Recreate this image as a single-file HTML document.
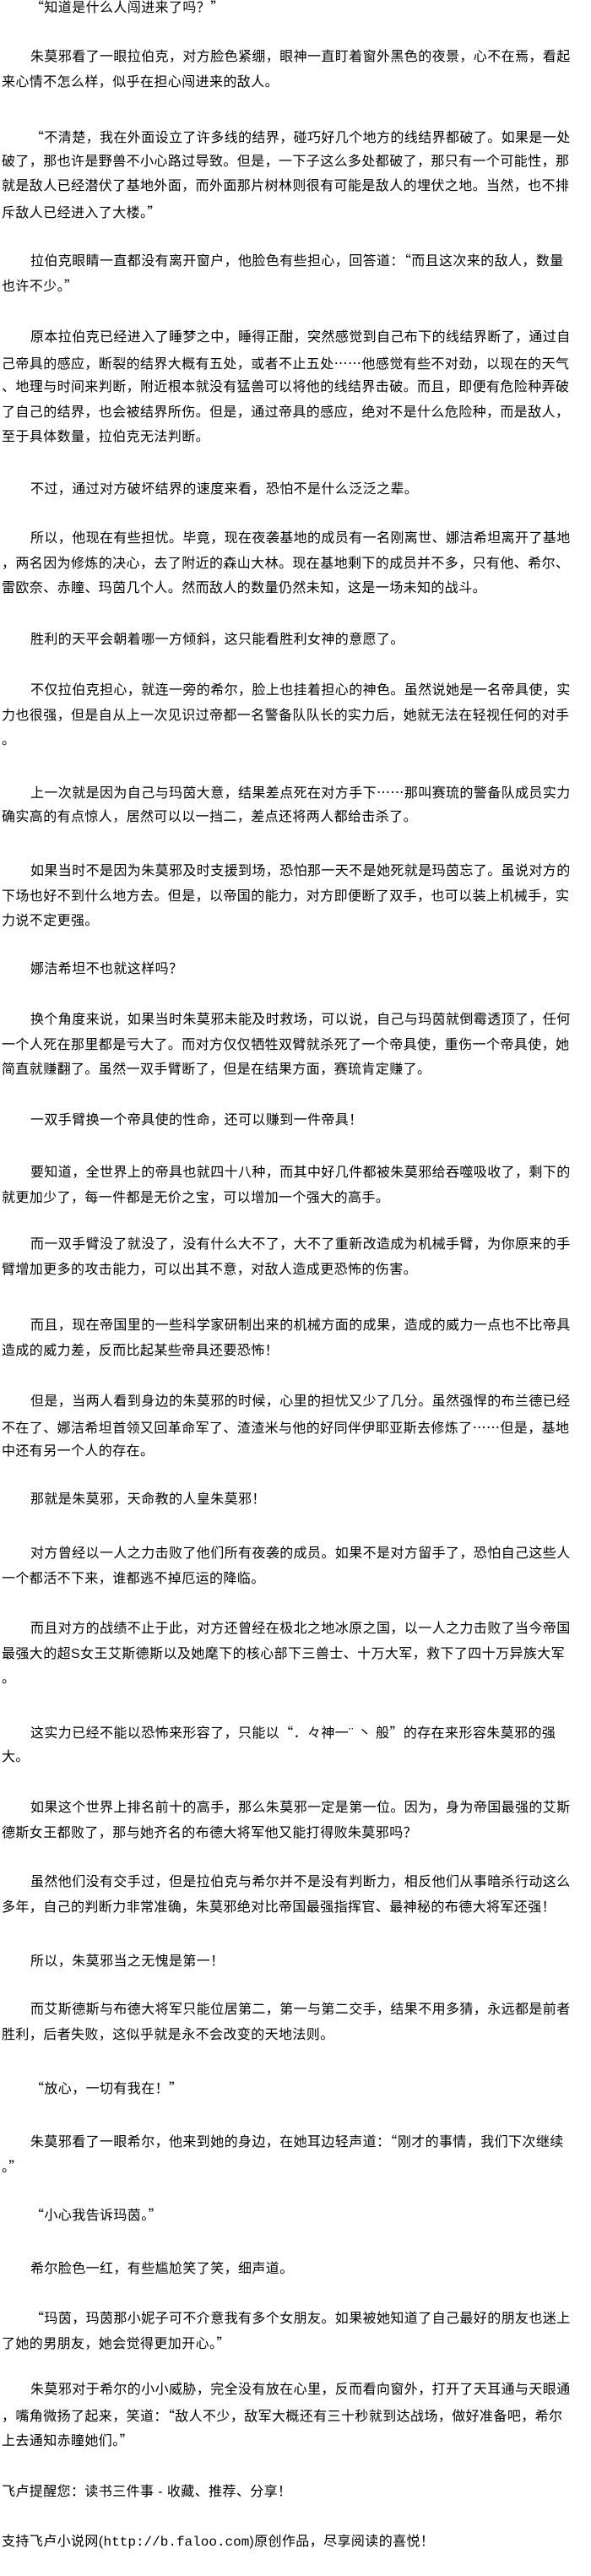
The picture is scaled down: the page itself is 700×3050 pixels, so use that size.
<!DOCTYPE html>
<html><head><meta charset="utf-8">
<style>
html,body{margin:0;padding:0;background:#fff;}
body{width:700px;height:3050px;position:relative;overflow:hidden;
font-family:"Liberation Sans","Noto Sans CJK SC","WenQuanYi Zen Hei",sans-serif;font-size:16px;color:#000;letter-spacing:0.4px;}
.p{position:absolute;left:2px;white-space:nowrap;}
.p div{height:29.5px;line-height:29.5px;}
.p div:first-child{padding-left:34px;}
.n div:first-child{padding-left:0;}
i{font-style:normal;font-family:"Noto Sans CJK SC",sans-serif;}
</style></head><body>
<div class="p" style="top:-7px"><div><i>“</i>知道是什么人闯进来了吗？<i>”</i></div></div>
<div class="p" style="top:53px"><div>朱莫邪看了一眼拉伯克，对方脸色紧绷，眼神一直盯着窗外黑色的夜景，心不在焉，看起</div><div>来心情不怎么样，似乎在担心闯进来的敌人。</div></div>
<div class="p" style="top:147px"><div><i>“</i>不清楚，我在外面设立了许多线的结界，碰巧好几个地方的线结界都破了。如果是一处</div><div>破了，那也许是野兽不小心路过导致。但是，一下子这么多处都破了，那只有一个可能性，那</div><div>就是敌人已经潜伏了基地外面，而外面那片树林则很有可能是敌人的埋伏之地。当然，也不排</div><div>斥敌人已经进入了大楼。<i>”</i></div></div>
<div class="p" style="top:293px"><div>拉伯克眼睛一直都没有离开窗户，他脸色有些担心，回答道：<i>“</i>而且这次来的敌人，数量</div><div>也许不少。<i>”</i></div></div>
<div class="p" style="top:385px"><div>原本拉伯克已经进入了睡梦之中，睡得正酣，突然感觉到自己布下的线结界断了，通过自</div><div>己帝具的感应，断裂的结界大概有五处，或者不止五处<i>……</i>他感觉有些不对劲，以现在的天气</div><div>、地理与时间来判断，附近根本就没有猛兽可以将他的线结界击破。而且，即便有危险种弄破</div><div>了自己的结界，也会被结界所伤。但是，通过帝具的感应，绝对不是什么危险种，而是敌人，</div><div>至于具体数量，拉伯克无法判断。</div></div>
<div class="p" style="top:565px"><div>不过，通过对方破坏结界的速度来看，恐怕不是什么泛泛之辈。</div></div>
<div class="p" style="top:623px"><div>所以，他现在有些担忧。毕竟，现在夜袭基地的成员有一名刚离世、娜洁希坦离开了基地</div><div>，两名因为修炼的决心，去了附近的森山大林。现在基地剩下的成员并不多，只有他、希尔、</div><div>雷欧奈、赤瞳、玛茵几个人。然而敌人的数量仍然未知，这是一场未知的战斗。</div></div>
<div class="p" style="top:743px"><div>胜利的天平会朝着哪一方倾斜，这只能看胜利女神的意愿了。</div></div>
<div class="p" style="top:803px"><div>不仅拉伯克担心，就连一旁的希尔，脸上也挂着担心的神色。虽然说她是一名帝具使，实</div><div>力也很强，但是自从上一次见识过帝都一名警备队队长的实力后，她就无法在轻视任何的对手</div><div>。</div></div>
<div class="p" style="top:923px"><div>上一次就是因为自己与玛茵大意，结果差点死在对方手下<i>……</i>那叫赛琉的警备队成员实力</div><div>确实高的有点惊人，居然可以以一挡二，差点还将两人都给击杀了。</div></div>
<div class="p" style="top:1017px"><div>如果当时不是因为朱莫邪及时支援到场，恐怕那一天不是她死就是玛茵忘了。虽说对方的</div><div>下场也好不到什么地方去。但是，以帝国的能力，对方即便断了双手，也可以装上机械手，实</div><div>力说不定更强。</div></div>
<div class="p" style="top:1133px"><div>娜洁希坦不也就这样吗？</div></div>
<div class="p" style="top:1193px"><div>换个角度来说，如果当时朱莫邪未能及时救场，可以说，自己与玛茵就倒霉透顶了，任何</div><div>一个人死在那里都是亏大了。而对方仅仅牺牲双臂就杀死了一个帝具使，重伤一个帝具使，她</div><div>简直就赚翻了。虽然一双手臂断了，但是在结果方面，赛琉肯定赚了。</div></div>
<div class="p" style="top:1312px"><div>一双手臂换一个帝具使的性命，还可以赚到一件帝具！</div></div>
<div class="p" style="top:1374px"><div>要知道，全世界上的帝具也就四十八种，而其中好几件都被朱莫邪给吞噬吸收了，剩下的</div><div>就更加少了，每一件都是无价之宝，可以增加一个强大的高手。</div></div>
<div class="p" style="top:1459px"><div>而一双手臂没了就没了，没有什么大不了，大不了重新改造成为机械手臂，为你原来的手</div><div>臂增加更多的攻击能力，可以出其不意，对敌人造成更恐怖的伤害。</div></div>
<div class="p" style="top:1555px"><div>而且，现在帝国里的一些科学家研制出来的机械方面的成果，造成的威力一点也不比帝具</div><div>造成的威力差，反而比起某些帝具还要恐怖！</div></div>
<div class="p" style="top:1645px"><div>但是，当两人看到身边的朱莫邪的时候，心里的担忧又少了几分。虽然强悍的布兰德已经</div><div>不在了、娜洁希坦首领又回革命军了、渣渣米与他的好同伴伊耶亚斯去修炼了<i>……</i>但是，基地</div><div>中还有另一个人的存在。</div></div>
<div class="p" style="top:1761px"><div>那就是朱莫邪，天命教的人皇朱莫邪！</div></div>
<div class="p" style="top:1825px"><div>对方曾经以一人之力击败了他们所有夜袭的成员。如果不是对方留手了，恐怕自己这些人</div><div>一个都活不下来，谁都逃不掉厄运的降临。</div></div>
<div class="p" style="top:1914px"><div>而且对方的战绩不止于此，对方还曾经在极北之地冰原之国，以一人之力击败了当今帝国</div><div>最强大的超S女王艾斯德斯以及她麾下的核心部下三兽士、十万大军，救下了四十万异族大军</div><div>。</div></div>
<div class="p" style="top:2036px"><div>这实力已经不能以恐怖来形容了，只能以<i>“</i>．々神一¨ 丶 般<i>”</i>的存在来形容朱莫邪的强</div><div>大。</div></div>
<div class="p" style="top:2126px"><div>如果这个世界上排名前十的高手，那么朱莫邪一定是第一位。因为，身为帝国最强的艾斯</div><div>德斯女王都败了，那与她齐名的布德大将军他又能打得败朱莫邪吗？</div></div>
<div class="p" style="top:2214px"><div>虽然他们没有交手过，但是拉伯克与希尔并不是没有判断力，相反他们从事暗杀行动这么</div><div>多年，自己的判断力非常准确，朱莫邪绝对比帝国最强指挥官、最神秘的布德大将军还强！</div></div>
<div class="p" style="top:2308px"><div>所以，朱莫邪当之无愧是第一！</div></div>
<div class="p" style="top:2365px"><div>而艾斯德斯与布德大将军只能位居第二，第一与第二交手，结果不用多猜，永远都是前者</div><div>胜利，后者失败，这似乎就是永不会改变的天地法则。</div></div>
<div class="p" style="top:2457px"><div><i>“</i>放心，一切有我在！<i>”</i></div></div>
<div class="p" style="top:2520px"><div>朱莫邪看了一眼希尔，他来到她的身边，在她耳边轻声道：<i>“</i>刚才的事情，我们下次继续</div><div>。<i>”</i></div></div>
<div class="p" style="top:2607px"><div><i>“</i>小心我告诉玛茵。<i>”</i></div></div>
<div class="p" style="top:2672px"><div>希尔脸色一红，有些尴尬笑了笑，细声道。</div></div>
<div class="p" style="top:2729px"><div><i>“</i>玛茵，玛茵那小妮子可不介意我有多个女朋友。如果被她知道了自己最好的朋友也迷上</div><div>了她的男朋友，她会觉得更加开心。<i>”</i></div></div>
<div class="p" style="top:2815px"><div>朱莫邪对于希尔的小小威胁，完全没有放在心里，反而看向窗外，打开了天耳通与天眼通</div><div>，嘴角微扬了起来，笑道：<i>“</i>敌人不少，敌军大概还有三十秒就到达战场，做好准备吧，希尔</div><div>上去通知赤瞳她们。<i>”</i></div></div>
<div class="p n" style="top:2936px"><div>飞卢提醒您：读书三件事 - 收藏、推荐、分享！</div></div>
<div class="p n" style="top:2995px"><div>支持飞卢小说网(<span style="font-family:'Liberation Mono',monospace;letter-spacing:0">http://b.faloo.com</span>)原创作品，尽享阅读的喜悦！</div></div>
</body></html>
